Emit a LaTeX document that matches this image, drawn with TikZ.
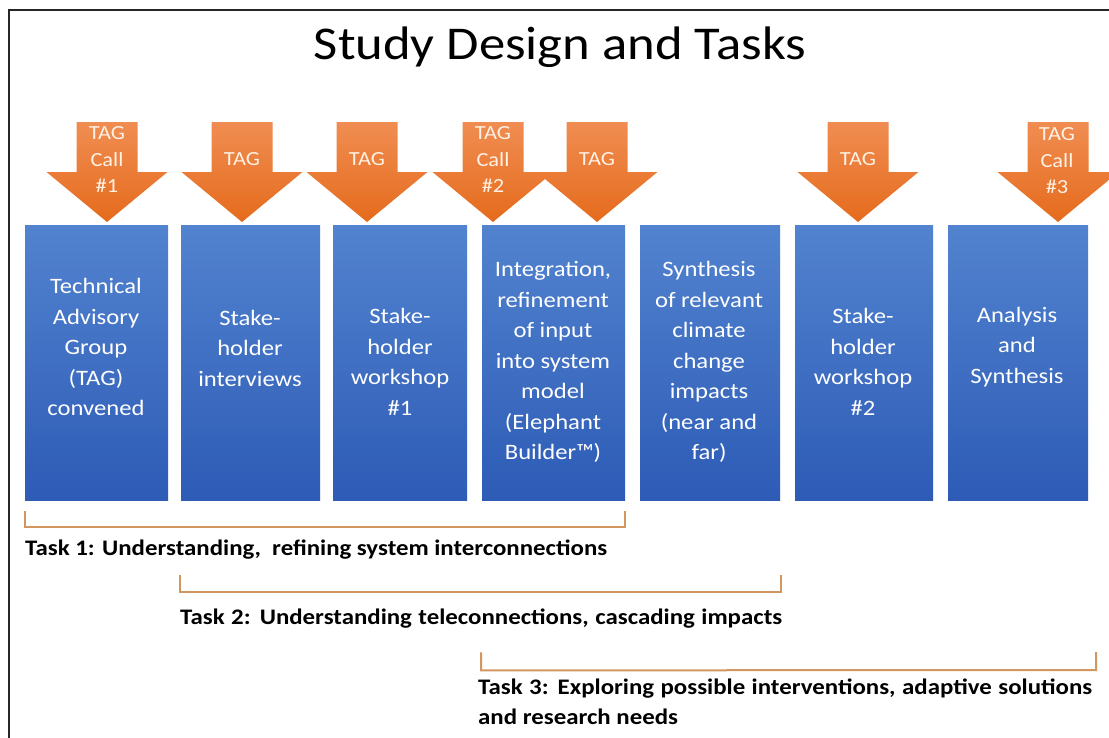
\documentclass[tikz,border=0pt]{standalone}
\usepackage{fontspec}
\setmainfont{Carlito}[FakeStretch=1.12]
\definecolor{boxtop}{HTML}{5283CF}
\definecolor{boxbot}{HTML}{2D5BB6}
\definecolor{arrtop}{HTML}{F08D52}
\definecolor{arrbot}{HTML}{E56B1C}
\definecolor{brk}{HTML}{D2965F}
\definecolor{frame}{HTML}{262626}
\begin{document}
\begin{tikzpicture}[x=1pt,y=-1pt,
  box/.style={rectangle, inner sep=0pt, minimum width=#1, minimum height=275pt, anchor=north west, top color=boxtop, bottom color=boxbot, draw=none},
  boxtext/.style={text=white, font=\fontsize{22}{30.5}\selectfont, align=center, inner sep=0pt},
  arrtext/.style={text=white!90!orange, font=\fontsize{20}{26.5}\selectfont, align=center, inner sep=0pt},
  tasktext/.style={font=\bfseries\fontsize{22.2}{30}\selectfont, align=left, inner sep=0pt, anchor=west},
  bracket/.style={draw=brk, line width=2pt},
  tagshade/.style={top color=arrtop, bottom color=arrbot, draw=none}]
\useasboundingbox (0,0) rectangle (1109,737);
\clip (0,0) rectangle (1109,737);
\fill[white] (0,0) rectangle (1109,737);
% frame
\draw[frame, line width=2pt] (9,740) -- (9,10) -- (1112,10);
% title
\node[font=\fontsize{47}{54}\selectfont, inner sep=0pt] (title) at (560,47) {Study Design and Tasks};
% TAG arrows
\foreach \n/\x in {1/107, 2/242, 3/367, 4/493, 5/597, 6/858, 7/1058}{
  \shade[tagshade] ({\x-30.5},122) -- ({\x+30.5},122) -- ({\x+30.5},172) -- ({\x+60.5},172)
     -- (\x,222) -- ({\x-60.5},172) -- ({\x-30.5},172) -- cycle;
  \coordinate (tip\n) at (\x,222);
}
\node[arrtext] (t1) at (107,160) {TAG\\Call\\\#1};
\node[arrtext] (t2) at (242,159) {TAG};
\node[arrtext] (t3) at (367,159) {TAG};
\node[arrtext] (t4) at (493,160) {TAG\\Call\\\#2};
\node[arrtext] (t5) at (597,159) {TAG};
\node[arrtext] (t6) at (858,159) {TAG};
\node[arrtext] (t7) at (1057,161) {TAG\\Call\\\#3};
% boxes
\node[box=143pt] (b1) at (25,225) {};
\node[box=139pt] (b2) at (181,225) {};
\node[box=134pt] (b3) at (333,225) {};
\node[box=143pt] (b4) at (482,225) {};
\node[box=140pt] (b5) at (640,225) {};
\node[box=138pt] (b6) at (795,225) {};
\node[box=140pt] (b7) at (948,225) {};
\node[boxtext] (l1) at (96,347) {Technical\\Advisory\\Group\\(TAG)\\convened};
\node[boxtext] (l2) at (250,348) {Stake-\\holder\\interviews};
\node[boxtext] (l3) at (400,362) {Stake-\\holder\\workshop\\\#1};
\node[boxtext] (l4) at (553,362) {Integration,\\refinement\\of input\\into system\\model\\(Elephant\\Builder™)};
\node[boxtext] (l5) at (709,362) {Synthesis\\of relevant\\climate\\change\\impacts\\(near and\\far)};
\node[boxtext] (l6) at (863,362) {Stake-\\holder\\workshop\\\#2};
\node[boxtext] (l7) at (1017,347) {Analysis\\and\\Synthesis};
% brackets
\coordinate (r3) at (1096,670);
\draw[bracket] ([yshift=-11pt]b1.south west) -- ([yshift=-27pt]b1.south west) -- ([yshift=-27pt]b4.south east) -- ([yshift=-11pt]b4.south east);
\draw[bracket] ([shift={(-1pt,-75pt)}]b2.south west) -- ([shift={(-1pt,-92pt)}]b2.south west) -- ([shift={(1pt,-92pt)}]b5.south east) -- ([shift={(1pt,-75pt)}]b5.south east);
\draw[bracket] ([shift={(-1pt,-152pt)}]b4.south west) -- ([shift={(-1pt,-170pt)}]b4.south west) -- (r3) -- ([yshift=18pt]r3);
% task labels
\node[tasktext] (task1) at (25,550) {\makebox[582pt][s]{Task 1: Understanding,\ \ refining system interconnections}};
\node[tasktext] (task2) at (180,619) {\makebox[602pt][s]{Task 2: Understanding teleconnections, cascading impacts}};
\node[tasktext, anchor=north west] (task3) at (478,679) {\makebox[614pt][s]{Task 3: Exploring possible interventions, adaptive solutions}\\and research needs};
\end{tikzpicture}
\end{document}
